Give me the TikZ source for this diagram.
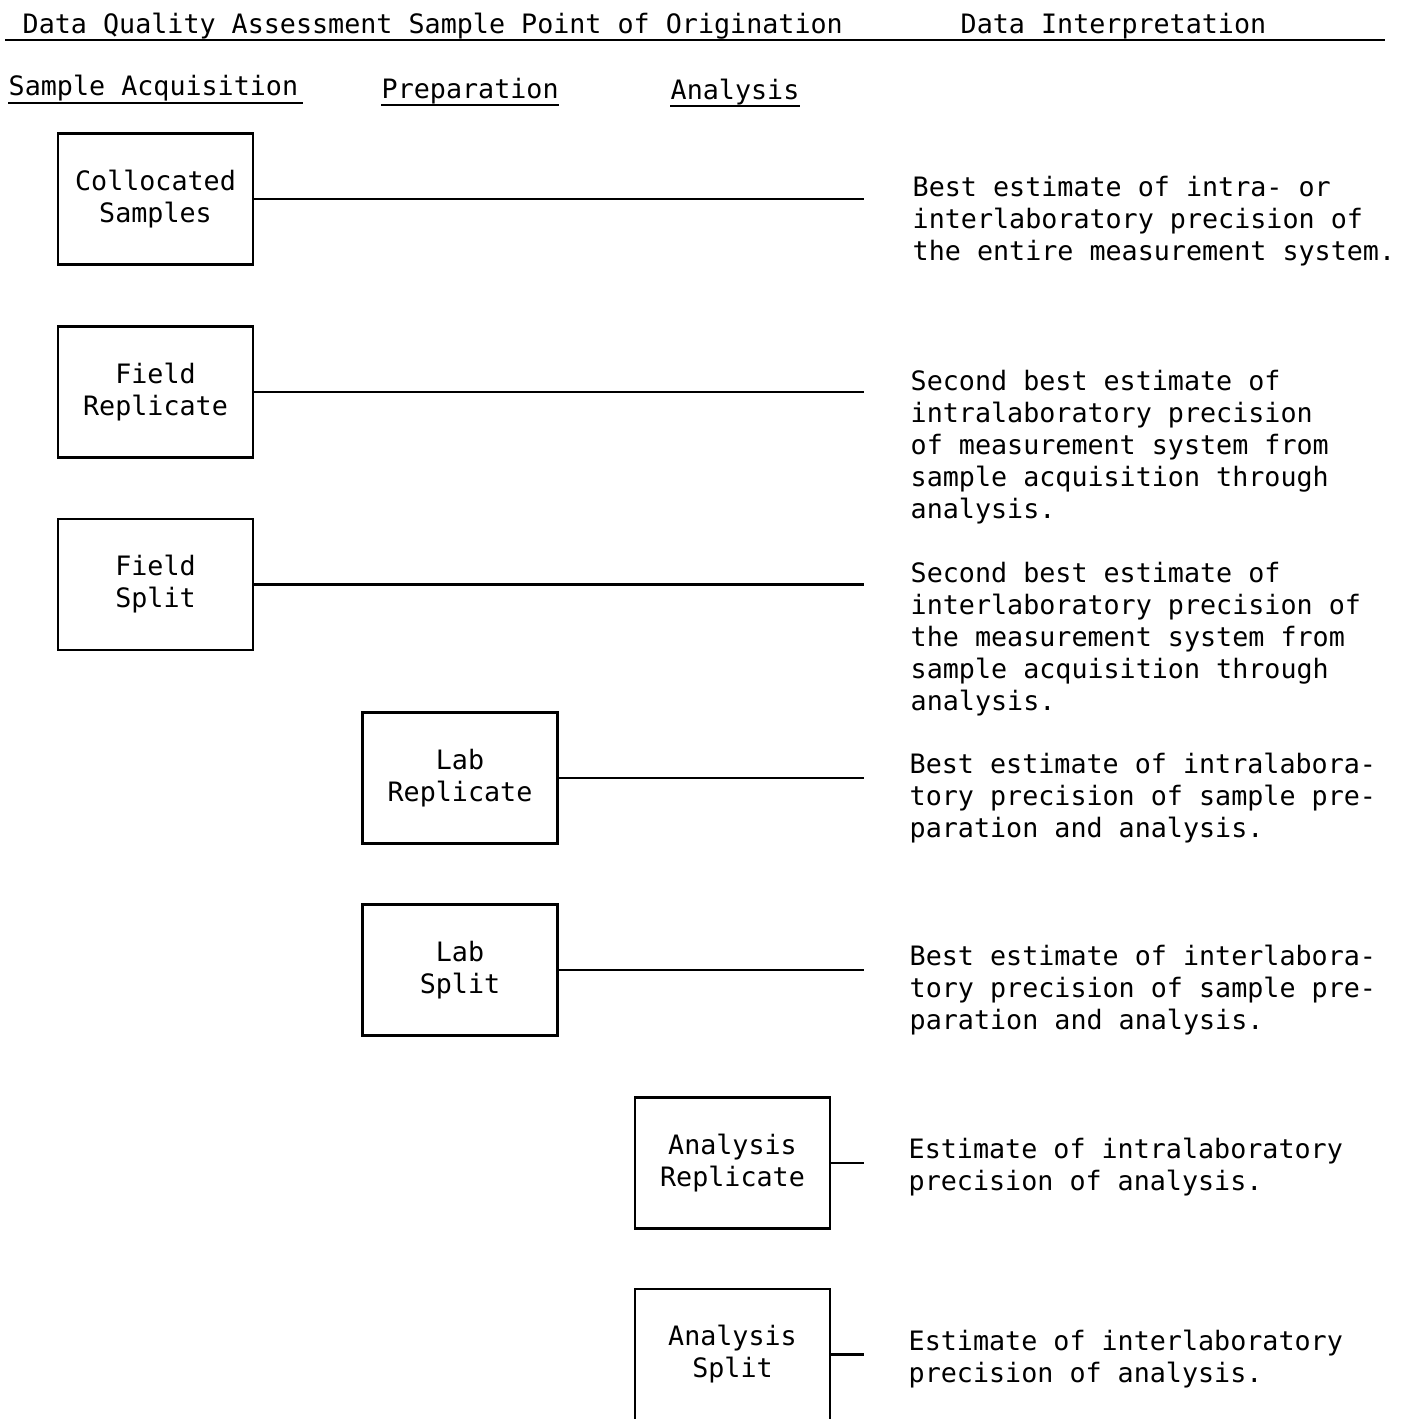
\documentclass[tikz,border=0pt]{standalone}
\usepackage{fontspec}
\setmonofont{DejaVu Sans Mono}
\tikzset{
  sample/.style={draw, line width=0.7pt, minimum width=1.95cm, minimum height=1.31cm, align=center, inner sep=0pt},
  interp/.style={anchor=base west, align=left, inner sep=0pt},
  heading/.style={anchor=base west, inner sep=0pt},
  rule/.style={line width=0.7pt}
}
\begin{document}
\begin{tikzpicture}[font=\ttfamily\fontsize{7.6}{9.1}\selectfont]
\useasboundingbox (0,0) rectangle (14.01,-14.19);
\node [heading] (dqa) at (0.22,-0.33) {Data Quality Assessment Sample Point of Origination};
\node [heading] (di) at (9.60,-0.33) {Data Interpretation};
\draw [rule] (0.05,-0.40) -- (13.85,-0.40);
\node [heading] (sa) at (0.08,-0.95) {Sample Acquisition};
\node [heading] (prep) at (3.81,-0.98) {Preparation};
\node [heading] (ana) at (6.70,-0.99) {Analysis};
\draw [rule] ([yshift=-0.08cm]sa.base west) -- ([yshift=-0.08cm,xshift=0.04cm]sa.base east);
\draw [rule] ([yshift=-0.07cm]prep.base west) -- ([yshift=-0.07cm]prep.base east);
\draw [rule] ([yshift=-0.07cm]ana.base west) -- ([yshift=-0.07cm]ana.base east);
\coordinate (lend) at (8.64,0);
\node [sample] (cs) at (1.555,-1.99) {Collocated\\Samples};
\node [sample] (fr) at (1.555,-3.92) {Field\\Replicate};
\node [sample] (fs) at (1.555,-5.845) {Field\\Split};
\node [sample] (lr) at (4.60,-7.78) {Lab\\Replicate};
\node [sample] (ls) at (4.60,-9.70) {Lab\\Split};
\node [sample] (ar) at (7.325,-11.63) {Analysis\\Replicate};
\node [sample] (as) at (7.325,-13.545) {Analysis\\Split};
\draw [rule] (cs.east) -- (cs.east -| lend);
\draw [rule] (fr.east) -- (fr.east -| lend);
\draw [rule] (fs.east) -- (fs.east -| lend);
\draw [rule] (lr.east) -- (lr.east -| lend);
\draw [rule] (ls.east) -- (ls.east -| lend);
\draw [rule] (ar.east) -- (ar.east -| lend);
\draw [rule] (as.east) -- (as.east -| lend);
\node [interp] (ics) at (9.12,-2.60) {Best estimate of intra- or\\interlaboratory precision of\\the entire measurement system.};
\node [interp] (ifr) at (9.10,-5.18) {Second best estimate of\\intralaboratory precision\\of measurement system from\\sample acquisition through\\analysis.};
\node [interp] (ifs) at (9.10,-7.10) {Second best estimate of\\interlaboratory precision of\\the measurement system from\\sample acquisition through\\analysis.};
\node [interp] (ilr) at (9.09,-8.37) {Best estimate of intralabora-\\tory precision of sample pre-\\paration and analysis.};
\node [interp] (ils) at (9.09,-10.29) {Best estimate of interlabora-\\tory precision of sample pre-\\paration and analysis.};
\node [interp] (iar) at (9.08,-11.90) {Estimate of intralaboratory\\precision of analysis.};
\node [interp] (ias) at (9.08,-13.82) {Estimate of interlaboratory\\precision of analysis.};
\end{tikzpicture}
\end{document}
